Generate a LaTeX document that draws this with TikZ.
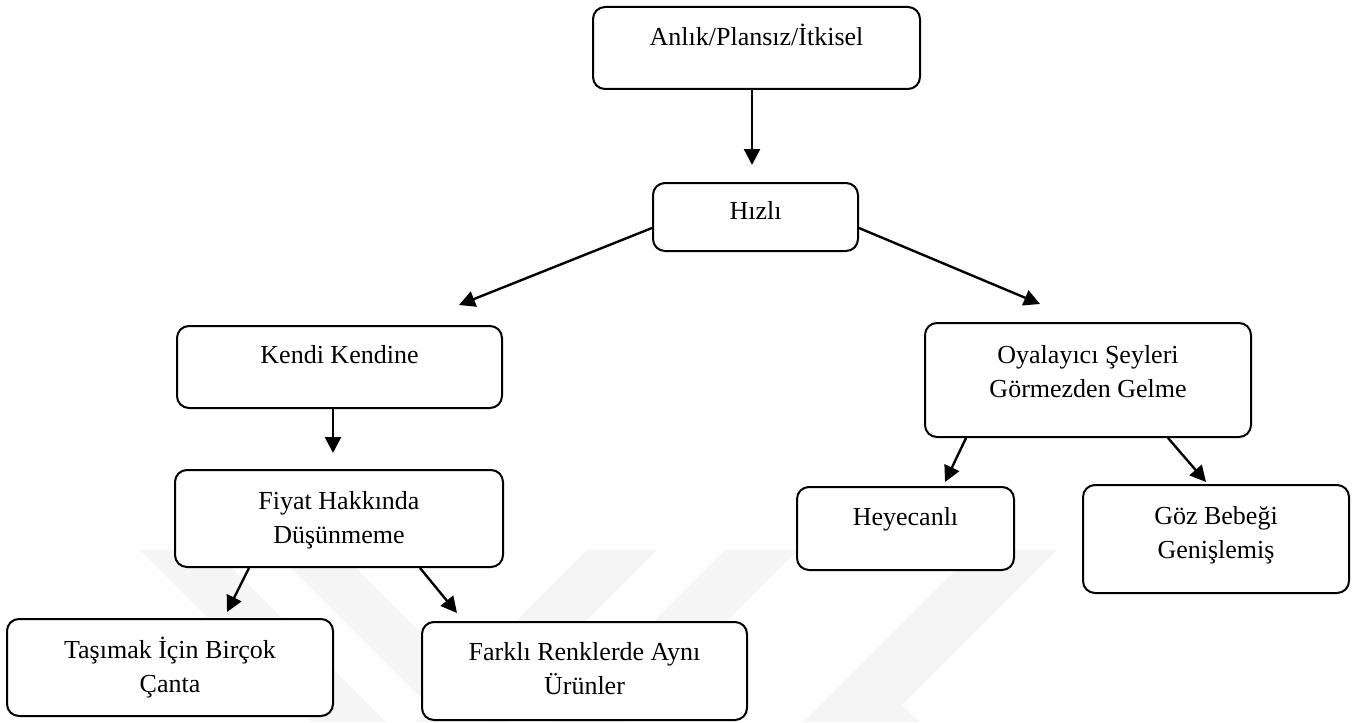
\documentclass[tikz,border=0pt]{standalone}
\usepackage{fontspec}
\setmainfont{Liberation Serif}
\usetikzlibrary{arrows.meta,fit}
% zero-width strut that fixes the top of every label
\newcommand{\lnstrut}{\rule{0pt}{13pt}}
\begin{document}
\begin{tikzpicture}[x=0.5pt,y=-0.5pt,
  box/.style={draw=black, fill=white, line width=1pt, rounded corners=6pt, inner sep=0pt},
  txt/.style={align=center, anchor=north, inner sep=0pt, font=\fontsize{13}{17.25}\selectfont},
  arr/.style={draw=black, line width=1.2pt, -{Triangle[length=8pt,width=8pt]}},
  wmark/.style={fill=black!4, draw=none}]

\useasboundingbox (0,0) rectangle (1363,722);

% faint background emblem
\fill[wmark] (140,550) -- (214,550) -- (386,722) -- (312,722) -- cycle;
\fill[wmark] (273,550) -- (338,550) -- (510,722) -- (445,722) -- cycle;
\fill[wmark] (587,550) -- (657,550) -- (485,722) -- (415,722) -- cycle;
\fill[wmark] (725,550) -- (798,550) -- (626,722) -- (553,722) -- cycle;
\fill[wmark] (975,550) -- (1057,550) -- (902,705) -- (919,722) -- (803,722) -- cycle;

% boxes
\node[box, fit={(593,7) (920,89)}] (anlik) {};
\node[box, fit={(653,183) (858,251)}] (hizli) {};
\node[box, fit={(177,326) (502,408)}] (kendi) {};
\node[box, fit={(175,470) (503,567)}] (fiyat) {};
\node[box, fit={(7,619) (333,716)}] (tasimak) {};
\node[box, fit={(422,622) (747,720)}] (farkli) {};
\node[box, fit={(925,323) (1251,437)}] (oyal) {};
\node[box, fit={(797,487) (1014,570)}] (heyec) {};
\node[box, fit={(1083,485) (1349,593)}] (goz) {};

% labels
\node[txt] (anlikT) at (756.5,19) {\lnstrut Anlık/Plansız/İtkisel};
\node[txt] (hizliT) at (755.5,193) {\lnstrut Hızlı};
\node[txt] (kendiT) at (339.5,337) {\lnstrut Kendi Kendine};
\node[txt] (fiyatT) at (339,483) {\lnstrut Fiyat Hakkında\\Düşünmeme};
\node[txt] (tasimakT) at (170,632) {\lnstrut Taşımak İçin Birçok\\Çanta};
\node[txt] (farkliT) at (584.5,634) {\lnstrut Farklı Renklerde Aynı\\Ürünler};
\node[txt] (oyalT) at (1088,337) {\lnstrut Oyalayıcı Şeyleri\\Görmezden Gelme};
\node[txt] (heyecT) at (905.5,499) {\lnstrut Heyecanlı};
\node[txt] (gozT) at (1216,498) {\lnstrut Göz Bebeği\\Genişlemiş};

% connectors
\draw[arr] ([shift={(-4.5,0)}]anlik.south) -- ([shift={(-3.5,-17)}]hizli.north);
\draw[arr] ([shift={(0,11)}]hizli.west) -- ([shift={(119.5,-20)}]kendi.north);
\draw[arr] ([shift={(0,11)}]hizli.east) -- ([shift={(-48,-18)}]oyal.north);
\draw[arr] ([shift={(-6.5,0)}]kendi.south) -- ([shift={(-6,-16)}]fiyat.north);
\draw[arr] ([shift={(-90,0)}]fiyat.south) -- ([shift={(57,-6)}]tasimak.north);
\draw[arr] ([shift={(81,0)}]fiyat.south) -- ([shift={(-127.5,-8)}]farkli.north);
\draw[arr] ([shift={(-122,0)}]oyal.south) -- ([shift={(39.5,-4)}]heyec.north);
\draw[arr] ([shift={(80,0)}]oyal.south) -- ([shift={(-10,-2)}]goz.north);
\end{tikzpicture}
\end{document}
